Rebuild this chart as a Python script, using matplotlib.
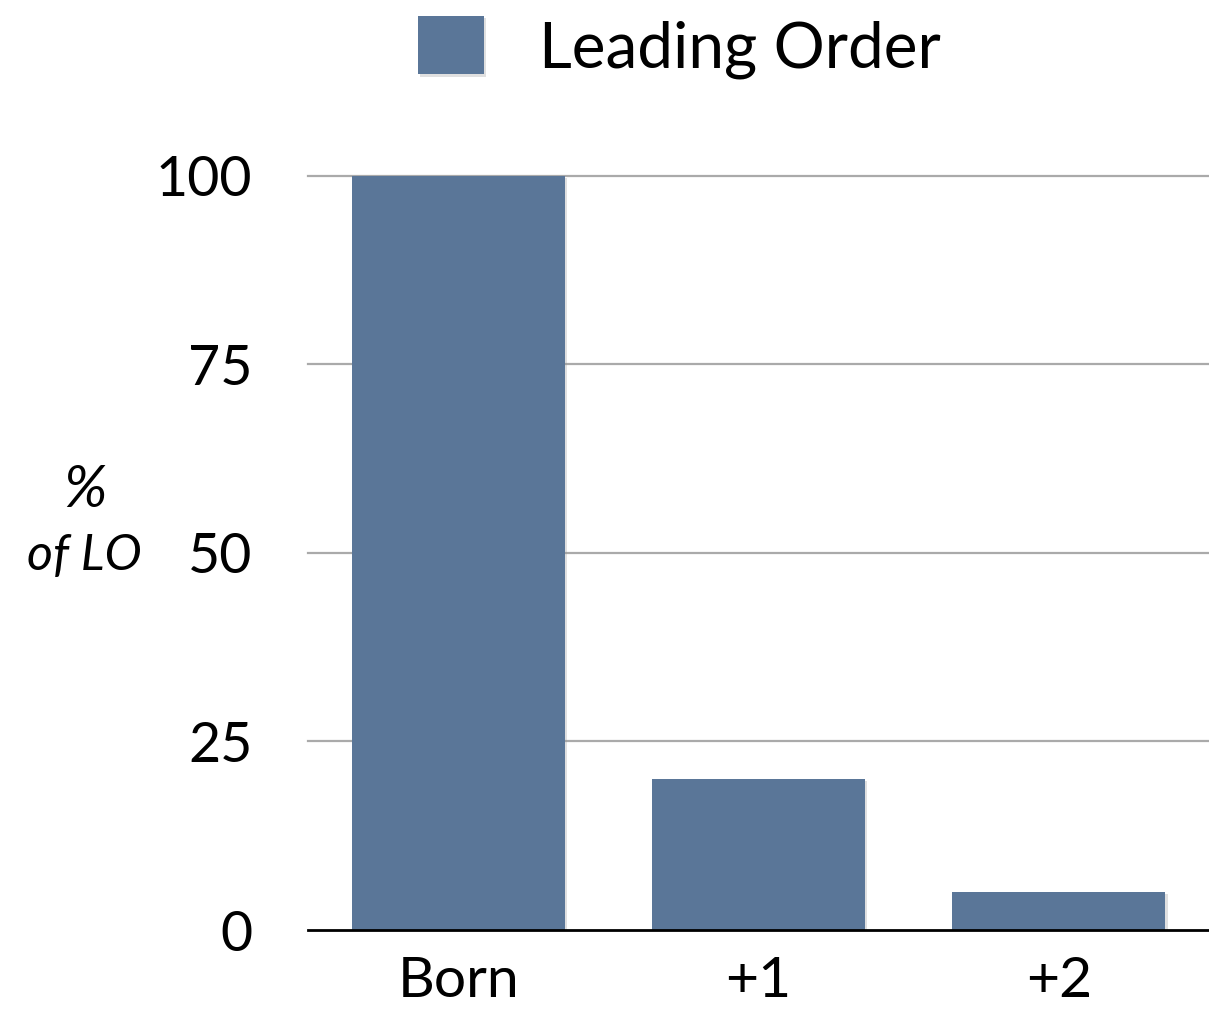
import matplotlib.pyplot as plt
import matplotlib.patheffects as pe

categories = ['Born', '+1', '+2']
values = [100, 20, 5]
y_ticks = [0, 25, 50, 75, 100]
series_name = 'Leading Order'

plt.rcParams['font.family'] = ['Lato', 'DejaVu Sans']

fig = plt.figure(figsize=(12.09, 10.29), dpi=100)
ax = fig.add_axes([0.2548, 0.0962, 0.7452, 0.7328])

bars = ax.bar(range(len(categories)), values, width=0.71, color='#5a7698',
              label=series_name, zorder=3)
for b in bars:
    b.set_path_effects([pe.SimplePatchShadow(offset=(1.5, -1.5), shadow_rgbFace='#999999', alpha=0.3),
                        pe.Normal()])

ax.set_xlim(-0.5, len(categories) - 0.5)
ax.set_ylim(0, 100)
ax.set_yticks(y_ticks)
ax.set_xticks(range(len(categories)))
ax.set_xticklabels(categories)
ax.tick_params(axis='both', length=0)
ax.tick_params(axis='y', pad=40, labelsize=40)
ax.tick_params(axis='x', pad=19, labelsize=41)

for t in y_ticks[1:]:
    ax.axhline(t, color='#aaaaaa', lw=1.6, zorder=1, clip_on=False)
ax.axhline(0, color='black', lw=2, zorder=4, clip_on=False)

for s in ax.spines.values():
    s.set_visible(False)

fig.text(0.070, 0.523, '%', fontsize=42, style='italic', ha='center', va='center')
fig.text(0.070, 0.460, 'of LO', fontsize=36, style='italic', ha='center', va='center')

fig.legend(handles=[bars], labels=[series_name], loc='center', bbox_to_anchor=(0.562, 0.954),
           frameon=False, fontsize=46, handlelength=1.03, handleheight=1.03, handletextpad=0.87)

fig.savefig('out.png', dpi=100)
